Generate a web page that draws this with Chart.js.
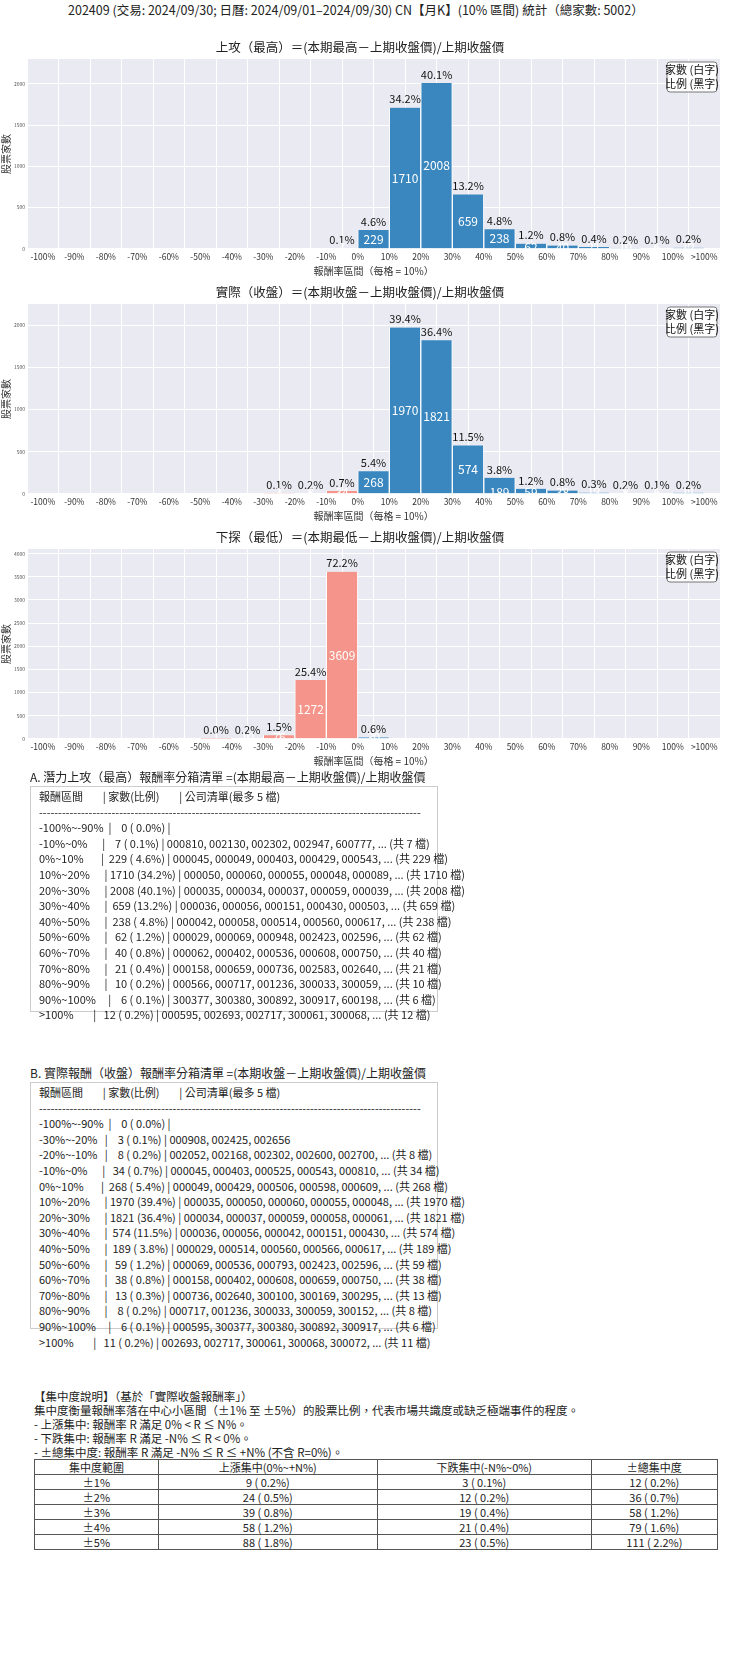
<!DOCTYPE html>
<html>
<head>
<meta charset="utf-8">
<script src="https://cdn.jsdelivr.net/npm/chart.js@4"></script>
<style>
  html, body { margin: 0; background: #fff; font-family: "Noto Sans CJK TC", "Noto Sans", sans-serif; color: #222; overflow: hidden; }
  #page { position: relative; width: 740px; height: 1660px; overflow: hidden; }
  .abs { position: absolute; }
  .chart { position: absolute; left: 0; width: 740px; height: 245px; }
  .box { position: absolute; left: 30px; width: 408px; border: 1px solid #ccc; font-size: 11px; line-height: 15.6px; padding: 2px 0 4px 8px; white-space: pre; box-sizing: border-box; }
  .sec { position: absolute; left: 30px; font-size: 12px; }
  table { border-collapse: collapse; font-size: 11px; }
  td { border: 1px solid #555; text-align: center; height: 14px; padding: 0; line-height: 14px; }
</style>
</head>
<body>
<div id="page">
  <div class="abs" style="left:68px;top:0;font-size:12.5px;">202409 (交易: 2024/09/30; 日曆: 2024/09/01–2024/09/30) CN【月K】(10% 區間) 統計（總家數: 5002）</div>
  <div class="chart" style="top:36px"><canvas id="c1"></canvas></div>
  <div class="chart" style="top:281px"><canvas id="c2"></canvas></div>
  <div class="chart" style="top:526px"><canvas id="c3"></canvas></div>

  <div class="sec" style="top:768px">A. 潛力上攻（最高）報酬率分箱清單 =(本期最高－上期收盤價)/上期收盤價</div>
  <div class="box" id="boxA" style="top:786px;height:226px"></div>

  <div class="sec" style="top:1064px">B. 實際報酬（收盤）報酬率分箱清單 =(本期收盤－上期收盤價)/上期收盤價</div>
  <div class="box" id="boxB" style="top:1082px;height:247px"></div>

  <div class="abs" style="left:34px;top:1389px;font-size:11.5px;line-height:14px;">【集中度說明】（基於「實際收盤報酬率」）<br>集中度衡量報酬率落在中心小區間（±1% 至 ±5%）的股票比例，代表市場共識度或缺乏極端事件的程度。<br>- 上漲集中: 報酬率 R 滿足 0% &lt; R ≤ N%。<br>- 下跌集中: 報酬率 R 滿足 -N% ≤ R &lt; 0%。<br>- ±總集中度: 報酬率 R 滿足 -N% ≤ R ≤ +N% (不含 R=0%)。</div>
  <table class="abs" id="conc" style="left:34px;top:1459px;width:684px;"></table>
</div>
<script>
// bins: -100~-90 ... 90~100, >100
const edgeLabels = ['-100%','-90%','-80%','-70%','-60%','-50%','-40%','-30%','-20%','-10%','0%','10%','20%','30%','40%','50%','60%','70%','80%','90%','100%','>100%'];
const total = 5002;
const highCounts  = [0,0,0,0,0,0,0,0,0,7,229,1710,2008,659,238,62,40,21,10,6,12];
const closeCounts = [0,0,0,0,0,0,0,3,8,34,268,1970,1821,574,189,59,38,13,8,6,11];
const lowCounts   = [0,0,0,0,0,1,10,76,1272,3609,30,0,0,0,0,0,0,0,0,0,0];

const concRanges = ['±1%','±2%','±3%','±4%','±5%'];
const concUp    = ['9 ( 0.2%)','24 ( 0.5%)','39 ( 0.8%)','58 ( 1.2%)','88 ( 1.8%)'];
const concDown  = ['3 ( 0.1%)','12 ( 0.2%)','19 ( 0.4%)','21 ( 0.4%)','23 ( 0.5%)'];
const concTotal = ['12 ( 0.2%)','36 ( 0.7%)','58 ( 1.2%)','79 ( 1.6%)','111 ( 2.2%)'];

const listA = [
  '-100%~-90%  |    0 ( 0.0%) |',
  '-10%~0%      |    7 ( 0.1%) | 000810, 002130, 002302, 002947, 600777, ... (共 7 檔)',
  '0%~10%       |  229 ( 4.6%) | 000045, 000049, 000403, 000429, 000543, ... (共 229 檔)',
  '10%~20%      | 1710 (34.2%) | 000050, 000060, 000055, 000048, 000089, ... (共 1710 檔)',
  '20%~30%      | 2008 (40.1%) | 000035, 000034, 000037, 000059, 000039, ... (共 2008 檔)',
  '30%~40%      |  659 (13.2%) | 000036, 000056, 000151, 000430, 000503, ... (共 659 檔)',
  '40%~50%      |  238 ( 4.8%) | 000042, 000058, 000514, 000560, 000617, ... (共 238 檔)',
  '50%~60%      |   62 ( 1.2%) | 000029, 000069, 000948, 002423, 002596, ... (共 62 檔)',
  '60%~70%      |   40 ( 0.8%) | 000062, 000402, 000536, 000608, 000750, ... (共 40 檔)',
  '70%~80%      |   21 ( 0.4%) | 000158, 000659, 000736, 002583, 002640, ... (共 21 檔)',
  '80%~90%      |   10 ( 0.2%) | 000566, 000717, 001236, 300033, 300059, ... (共 10 檔)',
  '90%~100%     |    6 ( 0.1%) | 300377, 300380, 300892, 300917, 600198, ... (共 6 檔)',
  '>100%        |   12 ( 0.2%) | 000595, 002693, 002717, 300061, 300068, ... (共 12 檔)'
];
const listB = [
  '-100%~-90%  |    0 ( 0.0%) |',
  '-30%~-20%   |    3 ( 0.1%) | 000908, 002425, 002656',
  '-20%~-10%   |    8 ( 0.2%) | 002052, 002168, 002302, 002600, 002700, ... (共 8 檔)',
  '-10%~0%      |   34 ( 0.7%) | 000045, 000403, 000525, 000543, 000810, ... (共 34 檔)',
  '0%~10%       |  268 ( 5.4%) | 000049, 000429, 000506, 000598, 000609, ... (共 268 檔)',
  '10%~20%      | 1970 (39.4%) | 000035, 000050, 000060, 000055, 000048, ... (共 1970 檔)',
  '20%~30%      | 1821 (36.4%) | 000034, 000037, 000059, 000058, 000061, ... (共 1821 檔)',
  '30%~40%      |  574 (11.5%) | 000036, 000056, 000042, 000151, 000430, ... (共 574 檔)',
  '40%~50%      |  189 ( 3.8%) | 000029, 000514, 000560, 000566, 000617, ... (共 189 檔)',
  '50%~60%      |   59 ( 1.2%) | 000069, 000536, 000793, 002423, 002596, ... (共 59 檔)',
  '60%~70%      |   38 ( 0.8%) | 000158, 000402, 000608, 000659, 000750, ... (共 38 檔)',
  '70%~80%      |   13 ( 0.3%) | 000736, 002640, 300100, 300169, 300295, ... (共 13 檔)',
  '80%~90%      |    8 ( 0.2%) | 000717, 001236, 300033, 300059, 300152, ... (共 8 檔)',
  '90%~100%     |    6 ( 0.1%) | 000595, 300377, 300380, 300892, 300917, ... (共 6 檔)',
  '>100%        |   11 ( 0.2%) | 002693, 002717, 300061, 300068, 300072, ... (共 11 檔)'
];

const header = '報酬區間        | 家數(比例)        | 公司清單(最多 5 檔)\n' + '-'.repeat(100) + '\n';
document.getElementById('boxA').textContent = header + listA.join('\n');
document.getElementById('boxB').textContent = header + listB.join('\n');

const conc = document.getElementById('conc');
conc.innerHTML = '<tr><td>集中度範圍</td><td>上漲集中(0%~+N%)</td><td>下跌集中(-N%~0%)</td><td>±總集中度</td></tr>' +
  concRanges.map((r, i) => `<tr><td>${r}</td><td>${concUp[i]}</td><td>${concDown[i]}</td><td>${concTotal[i]}</td></tr>`).join('');

const blue = '#3a87c0', red = '#f4948a';
const font = '"Noto Sans CJK TC", "Noto Sans", sans-serif';

// plot background, bar labels and the small legend box
const decor = {
  id: 'decor',
  beforeDraw(chart) {
    const a = chart.chartArea, ctx = chart.ctx;
    ctx.save(); ctx.fillStyle = '#eaeaf2';
    ctx.fillRect(a.left, a.top, a.right - a.left, a.bottom - a.top);
    ctx.restore();
  },
  afterDatasetsDraw(chart) {
    const ctx = chart.ctx, a = chart.chartArea;
    const meta = chart.getDatasetMeta(0);
    const counts = chart.data.datasets[0].data.map(d => d.y);
    ctx.save();
    ctx.textAlign = 'center';
    meta.data.forEach((bar, i) => {
      const n = counts[i];
      if (!n) return;
      ctx.fillStyle = '#111'; ctx.font = '11px ' + font; ctx.textBaseline = 'bottom';
      ctx.fillText((n / total * 100).toFixed(1) + '%', bar.x, bar.y - 3);
      ctx.save();
      ctx.beginPath(); ctx.rect(a.left, a.top, a.right - a.left, a.bottom - a.top); ctx.clip();
      ctx.fillStyle = '#fff'; ctx.font = '12px ' + font; ctx.textBaseline = 'middle';
      const mid = (bar.y + bar.base) / 2;
      ctx.fillText(String(n), bar.x, bar.base - bar.y < 16 ? bar.base - 1 : mid);
      ctx.restore();
    });
    ctx.restore();
    // legend box
    ctx.save();
    const w = 50, h = 30, x = a.right - w - 3, y = a.top + 3;
    ctx.fillStyle = '#fff'; ctx.strokeStyle = '#777'; ctx.lineWidth = 1;
    ctx.beginPath(); ctx.roundRect(x, y, w, h, 3); ctx.fill(); ctx.stroke();
    ctx.fillStyle = '#111'; ctx.font = '11px ' + font; ctx.textAlign = 'center'; ctx.textBaseline = 'middle';
    ctx.fillText('家數 (白字)', x + w / 2, y + 8);
    ctx.fillText('比例 (黑字)', x + w / 2, y + 22);
    ctx.restore();
  }
};

function makeChart(id, title, counts, yMax) {
  const data = counts.map((v, i) => ({ x: i + 0.5, y: v }));
  new Chart(document.getElementById(id), {
    type: 'bar',
    data: { datasets: [{
      data,
      backgroundColor: counts.map((v, i) => i < 10 ? red : blue),
      borderColor: '#fff', borderWidth: { left: 1, right: 1 },
      barPercentage: 1, categoryPercentage: 1
    }] },
    options: {
      responsive: true, maintainAspectRatio: false, animation: false,
      layout: { padding: { left: 0, right: 20, top: 0, bottom: 0 } },
      plugins: {
        legend: { display: false }, tooltip: { enabled: false },
        title: { display: true, text: title, color: '#222', font: { size: 12.5, family: font, weight: 'normal' }, padding: { top: 4, bottom: 4 } }
      },
      scales: {
        x: {
          type: 'linear', min: 0, max: 21,
          ticks: { autoSkip: false, maxRotation: 0, color: '#333', font: { size: 8.5, family: font },
            callback: v => edgeLabels[v] ?? '' },
          afterBuildTicks: s => { s.ticks = edgeLabels.map((l, i) => ({ value: i })); },
          grid: { color: '#fff', drawTicks: false }, border: { display: false },
          title: { display: true, text: '報酬率區間（每格 = 10%）', color: '#333', font: { size: 10, family: font }, padding: { top: 0 } }
        },
        y: {
          min: 0, max: yMax,
          ticks: { color: '#555', font: { size: 5, family: font }, padding: 2, callback: v => String(v) },
          afterBuildTicks: s => {
            const t = [];
            for (let v = 0; v <= yMax; v += 500) t.push({ value: v });
            s.ticks = t;
          },
          grid: { color: '#fff', drawTicks: false }, border: { display: false },
          title: { display: true, text: '股票家數', color: '#333', font: { size: 10, family: font }, padding: 0 }
        }
      }
    },
    plugins: [decor]
  });
}

makeChart('c1', '上攻（最高）＝(本期最高－上期收盤價)/上期收盤價', highCounts, 2300);
makeChart('c2', '實際（收盤）＝(本期收盤－上期收盤價)/上期收盤價', closeCounts, 2250);
makeChart('c3', '下探（最低）＝(本期最低－上期收盤價)/上期收盤價', lowCounts, 4100);
</script>
</body>
</html>
